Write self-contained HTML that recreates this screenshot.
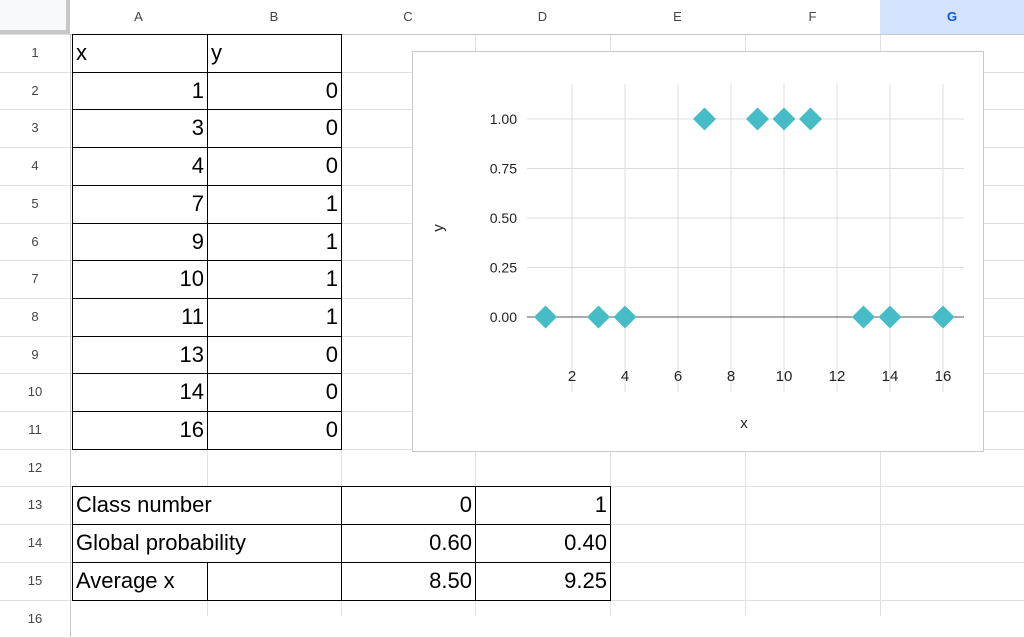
<!DOCTYPE html>
<html><head><meta charset="utf-8"><style>
body{margin:0;width:1024px;height:616px;overflow:hidden;background:#fff;font-family:"Liberation Sans",Arial,sans-serif;position:relative}
.a{position:absolute;box-sizing:border-box}
.hl{position:absolute;height:1px;background:#e1e1e1;left:0;width:1024px}
.vl{position:absolute;width:1px;background:#e1e1e1;top:0;height:616px}
.ch{position:absolute;top:0;height:34px;line-height:34px;text-align:center;font-size:13px;color:#444;background:#fff}
.rn{position:absolute;left:0;width:70px;text-align:center;font-size:13px;color:#444}
.c{position:absolute;box-sizing:border-box;border:1px solid #000;font-size:22px;line-height:36px;padding:0 3px;background:#fff}
.r{text-align:right}
</style></head><body>
<div id="grid"></div>
<svg class="a" style="left:412px;top:51px" width="572" height="401" id="chart"></svg>
<script>
const xs=[1,3,4,7,9,10,11,13,14,16];
const ys=[0,0,0,1,1,1,1,0,0,0];
const xTicks=[2,4,6,8,10,12,14,16];
const yTicks=[0,0.25,0.5,0.75,1];
const yTickLabels=["0.00","0.25","0.50","0.75","1.00"];
const classLabels=["0","1"];
const globalProb=["0.60","0.40"];
const avgX=["8.50","9.25"];

const g=document.getElementById('grid');
const cols=[0,70,207,341,475,610,745,880,1024];
const bx=[0,72,207,341,475,610];
const names=["A","B","C","D","E","F","G"];
const RH=37.7,HT=34;
function rowTop(n){return HT+(n-1)*RH;}
let html='';
for(let n=0;n<=16;n++){html+=`<div class="hl" style="top:${Math.round(rowTop(n+1))}px"></div>`;}
for(let i=1;i<cols.length-1;i++){html+=`<div class="vl" style="left:${cols[i]}px"></div>`;}
g.innerHTML=html;
function add(cls,style,text,name,inter){const d=document.createElement('div');d.className=cls;d.style.cssText=style;d.textContent=text;


document.body.appendChild(d);return d;}
add('a','left:0;top:0;width:70px;height:34px;background:#f8f9fa;border-right:4px solid #c7c7c7;border-bottom:4px solid #c7c7c7','','corner-cell','true');
for(let i=0;i<7;i++){const d=add('ch',`left:${cols[i+1]}px;width:${cols[i+2]-cols[i+1]}px;border-right:1px solid #e1e1e1;border-bottom:1px solid #c7c7c7`,names[i],'column-header-'+names[i].toLowerCase(),'true');
if(i==6){d.style.background='#d3e3fd';d.style.fontWeight='bold';d.style.color='#0b57d0';}}
for(let n=1;n<=16;n++){add('rn',`top:${rowTop(n)}px;height:${RH}px;line-height:${RH}px;border-right:1px solid #c7c7c7`,n,'row-header-'+n,'true');}
function cell(c0,c1,n,text,right,name){const t=Math.round(rowTop(n));const b=Math.round(rowTop(n+1));
return add('c'+(right?' r':''),`left:${bx[c0]}px;top:${t}px;width:${bx[c1]-bx[c0]+1}px;height:${b-t+1}px`,text,name,'true');}
cell(1,2,1,'x',false,'header-x');cell(2,3,1,'y',false,'header-y');
xs.forEach((v,i)=>{cell(1,2,i+2,v,true,'cell-x-'+(i+1));cell(2,3,i+2,ys[i],true,'cell-y-'+(i+1));});
cell(1,3,13,'Class number',false,'class-number-label');cell(3,4,13,classLabels[0],true,'class-0');cell(4,5,13,classLabels[1],true,'class-1');
cell(1,3,14,'Global probability',false,'global-probability-label');cell(3,4,14,globalProb[0],true,'prob-class-0');cell(4,5,14,globalProb[1],true,'prob-class-1');
cell(1,2,15,'Average x',false,'average-x-label');cell(2,3,15,'',false,'empty-cell');cell(3,4,15,avgX[0],true,'avg-x-class-0');cell(4,5,15,avgX[1],true,'avg-x-class-1');

const s=document.getElementById('chart');const NS='http://www.w3.org/2000/svg';
const ox=412,oy=51;
function X(v){return 545.5+(v-1)*26.5-ox;}
function Y(v){return 317-v*198-oy;}
function el(t,a,name){const e=document.createElementNS(NS,t);for(const k in a)e.setAttribute(k,a[k]);


s.appendChild(e);return e;}
el('rect',{x:0.5,y:0.5,width:571,height:400,fill:'#fff',stroke:'#c8c8c8'},'chart-border');
xTicks.forEach(t=>{el('line',{x1:X(t),x2:X(t),y1:84-oy,y2:392-oy,stroke:'#dcdcdc','stroke-width':1},'x-gridline');
const tx=el('text',{x:X(t),y:381-oy,'text-anchor':'middle','font-size':15,fill:'#222'},'x-tick-label');tx.textContent=t;});
yTicks.forEach((t,i)=>{el('line',{x1:527-ox,x2:964-ox,y1:Y(t),y2:Y(t),stroke:t==0?'#555':'#dcdcdc','stroke-width':1},t==0?'zero-baseline':'y-gridline');
const tx=el('text',{x:517-ox,y:Y(t)+5,'text-anchor':'end','font-size':14,fill:'#222'},'y-tick-label');tx.textContent=yTickLabels[i];});
const xt=el('text',{x:744-ox,y:428-oy,'text-anchor':'middle','font-size':15,fill:'#222'},'x-axis-title');xt.textContent='x';
const yt=el('text',{x:0,y:0,'text-anchor':'middle','font-size':15,fill:'#222',transform:`translate(${443-ox},${228-oy}) rotate(-90)`},'y-axis-title');yt.textContent='y';
xs.forEach((v,i)=>{const cx=X(v),cy=Y(ys[i]),r=11.5;
el('polygon',{points:`${cx},${cy-r} ${cx+r},${cy} ${cx},${cy+r} ${cx-r},${cy}`,fill:'#46bdc6'},'data-point');});
</script>
</body></html>
